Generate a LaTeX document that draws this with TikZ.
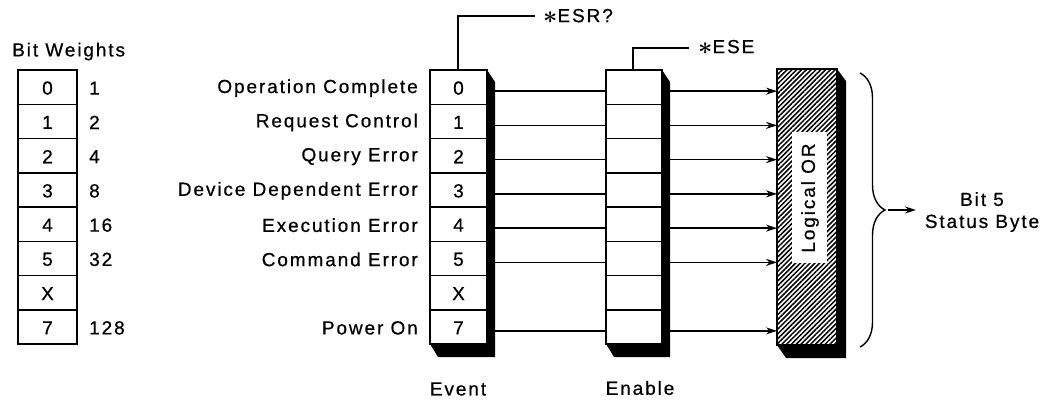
\documentclass[tikz,border=0pt]{standalone}
\usepackage{fontspec}
\setmainfont{Liberation Sans}[LetterSpace=10,FakeBold=0.6]
\usetikzlibrary{patterns.meta,decorations.pathreplacing,arrows.meta}
\newcommand{\hvast}{\raisebox{-1pt}{\fontsize{30}{30}\selectfont\boldmath$\ast$}}
\begin{document}
\begin{tikzpicture}[x=1pt,y=-1pt,
  txt/.style={inner sep=0pt,font=\fontsize{19}{22}\selectfont},
  cell/.style={draw,line width=1.5pt,fill=white},
  sig/.style={line width=1.5pt},
  arr/.style={line width=1.5pt,-{Stealth[length=11pt,width=7pt]}},
  shadow/.style={fill=black}]
\useasboundingbox (0,0) rectangle (1056,400);
\def\rh{34.25}
\def\top{70}
% ---------- Bit weights ----------
\node[txt,anchor=west] (bwlabel) at (12,51.5) {Bit Weights};
\foreach \i/\b/\w in {0/0/1,1/1/2,2/2/4,3/3/8,4/4/16,5/5/32,6/X/,7/7/128}{
  \draw[cell] (18,{\top+\i*\rh}) rectangle (77,{\top+(\i+1)*\rh});
  \node[txt] (bw\i) at (47.5,{\top+(\i+0.5)*\rh+1}) {\b};
  \node[txt,anchor=west] (wt\i) at (89,{\top+(\i+0.5)*\rh+1}) {\w};
}
% ---------- Event register ----------
\fill[shadow] (430,\top) -- (487,\top) -- (495,{\top+12}) -- (495,{\top+8*\rh+13}) -- (438,{\top+8*\rh+13}) -- (430,{\top+8*\rh}) -- cycle;
\foreach \i/\b in {0/0,1/1,2/2,3/3,4/4,5/5,6/X,7/7}{
  \draw[cell] (430,{\top+\i*\rh}) rectangle (487,{\top+(\i+1)*\rh});
  \node[txt] (ev\i) at (458.5,{\top+(\i+0.5)*\rh+1}) {\b};
}
\coordinate (evtop) at (458,\top);
\node[txt] (evlabel) at (458,389) {Event};
% ---------- Enable register ----------
\fill[shadow] (606,\top) -- (662,\top) -- (670,{\top+12}) -- (670,{\top+8*\rh+13}) -- (614,{\top+8*\rh+13}) -- (606,{\top+8*\rh}) -- cycle;
\foreach \i in {0,...,7}{
  \draw[cell] (606,{\top+\i*\rh}) rectangle (662,{\top+(\i+1)*\rh});
  \coordinate (en\i) at (634,{\top+(\i+0.5)*\rh});
}
\coordinate (entop) at (633,\top);
\node[txt] (enlabel) at (640,388) {Enable};
% ---------- Event labels ----------
\foreach \i/\t in {0/Operation Complete,1/Request Control,2/Query Error,3/Device Dependent Error,4/Execution Error,5/Command Error,7/Power On}{
  \node[txt,anchor=east] (lab\i) at (418,{\top+(\i+0.5)*\rh+1}) {\t};
}
% ---------- Logical OR ----------
\fill[shadow] (777,69) -- (837,69) -- (846,81) -- (846,358) -- (786,358) -- (777,345) -- cycle;
\draw[line width=1.5pt,fill=white] (777,69) rectangle (837,345);
\fill[pattern={Lines[angle=45,distance=3.4pt,line width=1.5pt]}] (777,69) rectangle (837,345);
\draw[line width=1.5pt] (777,69) rectangle (837,345);
\fill[white] (792,132) rectangle (827,263);
\node[txt,rotate=90] (or) at (810,198) {Logical OR};
% ---------- Connections ----------
\foreach \i in {0,1,2,3,4,5,7}{
  \coordinate (a\i) at (495,{\top+(\i+0.5)*\rh+4});
  \coordinate (b\i) at (606,{\top+(\i+0.5)*\rh+4});
  \coordinate (c\i) at (670,{\top+(\i+0.5)*\rh+4});
  \coordinate (d\i) at (777,{\top+(\i+0.5)*\rh+4});
  \draw[sig] (a\i) -- (b\i);
  \draw[arr] (c\i) -- (d\i);
}
% ---------- Query commands ----------
\coordinate (esrend) at (535,16);
\node[txt,anchor=west] (esr) at (543,16) {\hvast ESR?};
\draw[sig] (evtop) |- (esrend);
\coordinate (eseend) at (689,48);
\node[txt,anchor=west] (ese) at (698,47) {\hvast ESE};
\draw[sig] (entop) |- (eseend);
% ---------- Brace ----------
\draw[line width=1.4pt,decorate,decoration={brace,amplitude=25pt}] (860,73) -- (860,347);
\coordinate (bracetip) at (888,210);
\coordinate (arrend) at (916,210);
\draw[line width=1.5pt,-{Stealth[length=11pt,width=7pt]}] (bracetip) -- (arrend);
\node[txt,align=center] (status) at (982,212) {Bit 5\\Status Byte};
\end{tikzpicture}
\end{document}
